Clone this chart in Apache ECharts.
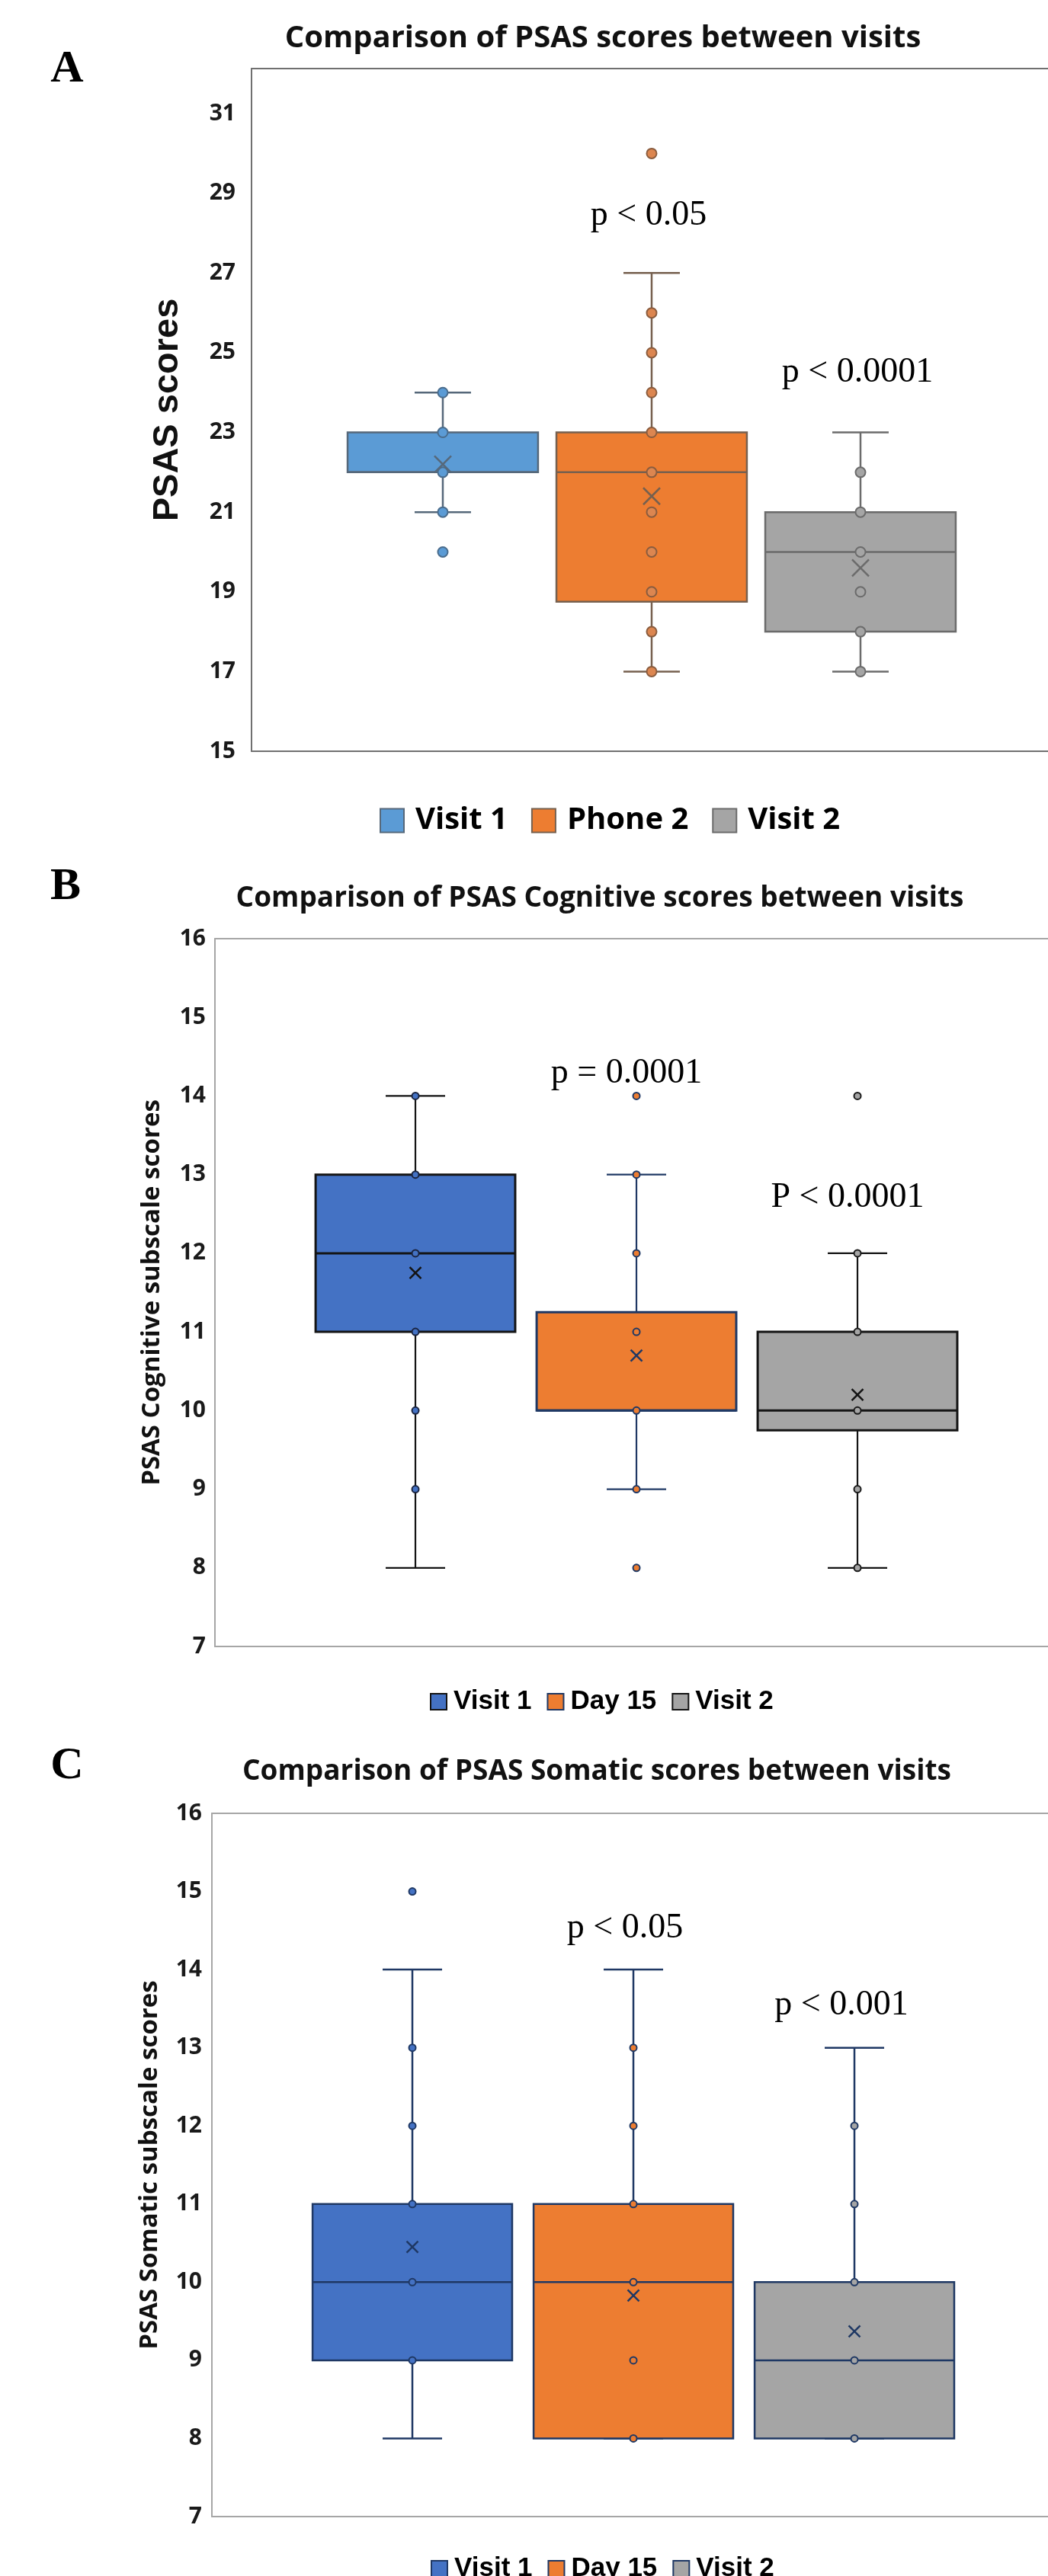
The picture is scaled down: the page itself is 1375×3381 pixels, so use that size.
<!DOCTYPE html>
<html>
<head>
    <meta charset="UTF-8">
    <title>PSAS 图谱</title>
    <style>
        body,
        html {
            margin: 0;
            padding: 0;
            background: #fff;
        }
        #myChart {
            width: 1375px;
            height: 3381px;
        }
    </style>
    <script src="https://cdn.jsdelivr.net/npm/echarts@6/dist/echarts.min.js"></script>
</head>
<body>
    <div id="myChart"></div>
    <script>

        // 分组名称
        let groupsA = ['Visit 1', 'Phone 2', 'Visit 2'];
        let groupsBC = ['Visit 1', 'Day 15', 'Visit 2'];

        // 箱线数据 [min, Q1, median, Q3, max]
        let boxA = [[21, 22, 22, 23, 24], [17, 18.75, 22, 23, 27], [17, 18, 20, 21, 23]];
        let boxB = [[8, 11, 12, 13, 14], [9, 10, 10, 11.25, 13], [8, 9.75, 10, 11, 12]];
        let boxC = [[8, 9, 10, 11, 14], [8, 8, 10, 11, 14], [8, 8, 9, 10, 13]];

        // 均值（×）
        let meanA = [22.2, 21.4, 19.6];
        let meanB = [11.75, 10.7, 10.2];
        let meanC = [10.45, 9.83, 9.37];

        // 散点（内点 + 离群点）
        let pointsA = [[24, 23, 22, 21, 20], [30, 26, 25, 24, 23, 22, 21, 20, 19, 18, 17], [22, 21, 20, 19, 18, 17]];
        let pointsB = [[14, 13, 12, 11, 10, 9], [14, 13, 12, 11, 10, 9, 8], [14, 12, 11, 10, 9, 8]];
        let pointsC = [[15, 13, 12, 11, 10, 9], [13, 12, 11, 10, 9, 8], [12, 11, 10, 9, 8]];

        // 刻度标签
        let ticksA = [15, 17, 19, 21, 23, 25, 27, 29, 31];
        let ticksBC = [7, 8, 9, 10, 11, 12, 13, 14, 15, 16];

        // 标题与注释
        let titles = ['Comparison of PSAS scores between visits',
            'Comparison of PSAS Cognitive scores between visits',
            'Comparison of PSAS Somatic scores between visits'];
        let yNames = ['PSAS scores', 'PSAS Cognitive subscale scores', 'PSAS Somatic subscale scores'];
        let pTexts = [['p < 0.05', 'p < 0.0001'], ['p = 0.0001', 'P < 0.0001'], ['p < 0.05', 'p < 0.001']];

        let chartW = 1375;

        // 面板布局与样式
        let panels = [
            {
                groups: groupsA, box: boxA, mean: meanA, pts: pointsA, ticks: ticksA,
                left: 330, top: 90, height: 896, spacing: 274, xMin: -0.916,
                yMin: 15, yMax: 32.13, interval: 2,
                frame: '#707070',
                fill: ['#5B9BD5', '#ED7D31', '#A5A5A5'],
                line: ['#56687a', '#76604f', '#6b6b6b'],
                dotFill: ['#5B9BD5', '#DC8650', '#A5A5A5'],
                dotLine: ['#4a6c8c', '#8a5c3e', '#6b6b6b'],
                lineW: 2.5, boxLineW: 2.5, dotSize: 13, dotW: 2, xSize: 22, xW: 2.5,
                boxRatio: 0.912, capRatio: 0.27,
                labelFont: 30, labelMargin: 21,
                nameFont: 47, nameFamily: 'Liberation Sans', nameGap: 86,
                legend: { left: 498, top: 1057, size: 31, gap: 31, font: 40, family: 'Open Sans', pad: 10 }
            },
            {
                groups: groupsBC, box: boxB, mean: meanB, pts: pointsB, ticks: ticksBC,
                left: 282, top: 1232, height: 929, spacing: 290, xMin: -0.907,
                yMin: 7, yMax: 16, interval: 1,
                frame: '#a6a6a6',
                fill: ['#4472C4', '#ED7D31', '#A5A5A5'],
                line: ['#141414', '#1F3864', '#141414'],
                dotFill: ['#4472C4', '#ED7D31', '#A5A5A5'],
                dotLine: ['#1a2440', '#1F3864', '#1a1a1a'],
                lineW: 2.2, boxLineW: 3, dotSize: 9, dotW: 2, xSize: 15, xW: 2.5,
                boxRatio: 0.903, capRatio: 0.269,
                labelFont: 30, labelMargin: 12,
                nameFont: 33, nameFamily: 'Open Sans', nameGap: 66,
                legend: { left: 564, top: 2216, size: 21, gap: 20, font: 35, family: 'Liberation Sans', pad: 4 }
            },
            {
                groups: groupsBC, box: boxC, mean: meanC, pts: pointsC, ticks: ticksBC,
                left: 278, top: 2380, height: 923, spacing: 290, xMin: -0.907,
                yMin: 7, yMax: 16, interval: 1,
                frame: '#a6a6a6',
                fill: ['#4472C4', '#ED7D31', '#A5A5A5'],
                line: ['#1F3864', '#1F3864', '#1F3864'],
                dotFill: ['#4472C4', '#ED7D31', '#A5A5A5'],
                dotLine: ['#1F3864', '#1F3864', '#1F3864'],
                lineW: 2.5, boxLineW: 2.5, dotSize: 9, dotW: 2, xSize: 15, xW: 2.5,
                boxRatio: 0.903, capRatio: 0.269,
                labelFont: 30, labelMargin: 13,
                nameFont: 33, nameFamily: 'Open Sans', nameGap: 65,
                legend: { left: 565, top: 3354, size: 21, gap: 20, font: 35, family: 'Liberation Sans', pad: 4 }
            }
        ];

        // 文字位置
        let titlePos = [{ x: 791, y: 51, size: 40 }, { x: 787, y: 1179, size: 37 }, { x: 783, y: 2325, size: 37 }];
        let letterPos = [{ t: 'A', x: 88, y: 91 }, { t: 'B', x: 86, y: 1164 }, { t: 'C', x: 88, y: 2318 }];
        let pPos = [[{ x: 851, y: 283 }, { x: 1125, y: 489 }], [{ x: 822, y: 1409 }, { x: 1112, y: 1572 }], [{ x: 820, y: 2531 }, { x: 1104, y: 2632 }]];

        // 箱体绘制
        function makeBox(p, i) {
            return function (params, api) {
                let x = api.value(0);
                let lo = api.coord([x, api.value(1)]);
                let q1 = api.coord([x, api.value(2)]);
                let md = api.coord([x, api.value(3)]);
                let q3 = api.coord([x, api.value(4)]);
                let hi = api.coord([x, api.value(5)]);
                let bw = api.size([p.boxRatio, 0])[0];
                let cw = api.size([p.capRatio, 0])[0];
                let cx = md[0];
                let ln = { stroke: p.line[i], lineWidth: p.lineW };
                return {
                    type: 'group',
                    children: [
                        { type: 'line', shape: { x1: cx, y1: lo[1], x2: cx, y2: q1[1] }, style: ln },
                        { type: 'line', shape: { x1: cx, y1: q3[1], x2: cx, y2: hi[1] }, style: ln },
                        { type: 'line', shape: { x1: cx - cw / 2, y1: lo[1], x2: cx + cw / 2, y2: lo[1] }, style: ln },
                        { type: 'line', shape: { x1: cx - cw / 2, y1: hi[1], x2: cx + cw / 2, y2: hi[1] }, style: ln },
                        {
                            type: 'rect',
                            shape: { x: cx - bw / 2, y: q3[1], width: bw, height: q1[1] - q3[1] },
                            style: { fill: p.fill[i], stroke: p.line[i], lineWidth: p.boxLineW }
                        },
                        { type: 'line', shape: { x1: cx - bw / 2, y1: md[1], x2: cx + bw / 2, y2: md[1] }, style: { stroke: p.line[i], lineWidth: p.boxLineW } }
                    ]
                };
            };
        }

        let grid = [], xAxis = [], yAxis = [], series = [], legend = [], graphic = [];

        panels.forEach((p, pi) => {
            let w = chartW - p.left;
            let frameLine = { show: true, onZero: false, lineStyle: { color: p.frame, width: 2 } };
            grid.push({ left: p.left, top: p.top, width: w, height: p.height });

            // 下边框 + 上边框（用坐标轴线画，右侧不封口）
            xAxis.push({
                type: 'value', gridIndex: pi, position: 'bottom',
                min: p.xMin, max: p.xMin + w / p.spacing,
                axisLine: frameLine, axisTick: { show: false }, axisLabel: { show: false }, splitLine: { show: false }
            });
            yAxis.push({
                type: 'value', gridIndex: pi, min: p.yMin, max: p.yMax, interval: p.interval,
                axisLine: frameLine, axisTick: { show: false }, splitLine: { show: false },
                axisLabel: {
                    margin: p.labelMargin, fontFamily: 'Open Sans', fontWeight: 'bold',
                    fontSize: p.labelFont, color: '#1a1a1a',
                    formatter: v => (p.ticks.indexOf(v) >= 0 ? String(v) : '')
                },
                name: yNames[pi], nameLocation: 'middle', nameRotate: 90, nameGap: p.nameGap,
                nameTextStyle: { fontFamily: p.nameFamily, fontWeight: 'bold', fontSize: p.nameFont, color: '#111' }
            });

            p.groups.forEach((name, i) => {
                series.push({
                    name: name, type: 'custom', xAxisIndex: pi, yAxisIndex: pi, z: 2,
                    itemStyle: { color: p.fill[i], borderColor: p.line[i], borderWidth: 2 },
                    renderItem: makeBox(p, i),
                    encode: { x: 0, y: [1, 2, 3, 4, 5] },
                    data: [[i].concat(p.box[i])]
                });
                series.push({
                    name: name + ' 点', type: 'scatter', xAxisIndex: pi, yAxisIndex: pi, z: 3,
                    symbol: 'circle', symbolSize: p.dotSize,
                    itemStyle: { color: p.dotFill[i], borderColor: p.dotLine[i], borderWidth: p.dotW, opacity: 1 },
                    data: p.pts[i].map(v => [i, v])
                });
            });

            series.push({
                name: 'mean', type: 'scatter', xAxisIndex: pi, yAxisIndex: pi, z: 4,
                symbol: 'path://M0,0L10,10M10,0L0,10', symbolSize: p.xSize,
                itemStyle: { color: 'none', borderWidth: p.xW, opacity: 1 },
                data: p.mean.map((v, i) => ({ value: [i, v], itemStyle: { borderColor: p.line[i] } }))
            });

            let lg = p.legend;
            legend.push({
                left: lg.left, top: lg.top, padding: 0, orient: 'horizontal',
                itemWidth: lg.size, itemHeight: lg.size, itemGap: lg.gap, icon: 'rect',
                selectedMode: false,
                textStyle: {
                    fontFamily: lg.family, fontWeight: 'bold', fontSize: lg.font, color: '#000',
                    padding: [0, 0, 0, lg.pad]
                },
                data: p.groups.map((name, i) => ({
                    name: name,
                    itemStyle: { color: p.fill[i], borderColor: p.line[i], borderWidth: 2 }
                }))
            });

            // 标题
            graphic.push({
                type: 'text', x: titlePos[pi].x, y: titlePos[pi].y,
                style: {
                    text: titles[pi], font: 'bold ' + titlePos[pi].size + 'px "Open Sans"', fill: '#111',
                    align: 'center', verticalAlign: 'middle', textAlign: 'center', textVerticalAlign: 'middle'
                }
            });
            // 面板字母
            graphic.push({
                type: 'text', x: letterPos[pi].x, y: letterPos[pi].y,
                style: {
                    text: letterPos[pi].t, font: 'bold 60px "Liberation Serif"', fill: '#000',
                    align: 'center', verticalAlign: 'middle', textAlign: 'center', textVerticalAlign: 'middle'
                }
            });
            // p 值
            pTexts[pi].forEach((t, k) => {
                graphic.push({
                    type: 'text', x: pPos[pi][k].x, y: pPos[pi][k].y,
                    style: {
                        text: t, font: '46px "Liberation Serif"', fill: '#000',
                        align: 'center', verticalAlign: 'middle', textAlign: 'center', textVerticalAlign: 'middle'
                    }
                });
            });
        });

        // 上边框轴
        panels.forEach((p, pi) => {
            let w = chartW - p.left;
            xAxis.push({
                type: 'value', gridIndex: pi, position: 'top',
                min: p.xMin, max: p.xMin + w / p.spacing,
                axisLine: { show: true, onZero: false, lineStyle: { color: p.frame, width: 2 } },
                axisTick: { show: false }, axisLabel: { show: false }, splitLine: { show: false }
            });
        });

        // 初始化
        let myEcharts = echarts.init(document.querySelector('#myChart'));

        //装载配置项
        let option = {
            animation: false,
            backgroundColor: '#fff',
            grid: grid,
            xAxis: xAxis,
            yAxis: yAxis,
            legend: legend,
            graphic: graphic,
            series: series
        };
        myEcharts.setOption(option, true);

    </script>
</body>
</html>
